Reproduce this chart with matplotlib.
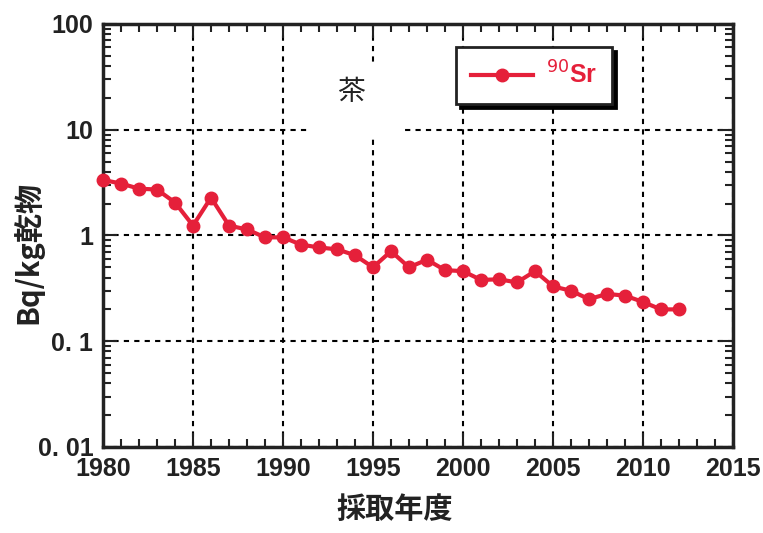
import matplotlib
matplotlib.use("Agg")
import matplotlib.pyplot as plt
from matplotlib.ticker import FixedLocator, FixedFormatter, LogLocator, MultipleLocator, NullFormatter
from matplotlib.patches import Rectangle

years = [1980, 1981, 1982, 1983, 1984, 1985, 1986, 1987, 1988, 1989, 1990,
         1991, 1992, 1993, 1994, 1995, 1996, 1997, 1998, 1999, 2000,
         2001, 2002, 2003, 2004, 2005, 2006, 2007, 2008, 2009, 2010,
         2011, 2012]
sr90 = [3.35, 3.1, 2.77, 2.72, 2.05, 1.24, 2.28, 1.24, 1.14, 0.96, 0.96,
        0.82, 0.77, 0.74, 0.65, 0.50, 0.71, 0.50, 0.59, 0.47, 0.46,
        0.38, 0.385, 0.36, 0.46, 0.33, 0.30, 0.25, 0.28, 0.27, 0.235,
        0.20, 0.20]
xticks = [1980, 1985, 1990, 1995, 2000, 2005, 2010, 2015]
yticks = [0.01, 0.1, 1, 10, 100]
yticklabels = ["0. 01", "0. 1", "1", "10", "100"]

num_font = ["Liberation Sans", "DejaVu Sans"]
cjk = ["Noto Sans CJK JP", "DejaVu Sans"]
ink = "#222222"
red = "#e5203a"

fig = plt.figure(figsize=(7.63, 5.33), dpi=100)
ax = fig.add_axes([0.135, 0.1614, 0.8257, 0.7936])

ax.plot(years, sr90, color=red, lw=3, marker="o", ms=9, mec=red, mfc=red,
        label="$^{90}$Sr", zorder=5, clip_on=False)

ax.set_yscale("log")
ax.set_xlim(1980, 2015)
ax.set_ylim(0.01, 100)
ax.xaxis.set_major_locator(FixedLocator(xticks))
ax.xaxis.set_minor_locator(MultipleLocator(1))
ax.yaxis.set_major_locator(FixedLocator(yticks))
ax.yaxis.set_major_formatter(FixedFormatter(yticklabels))
ax.yaxis.set_minor_locator(LogLocator(base=10, subs=range(2, 10), numticks=20))
ax.yaxis.set_minor_formatter(NullFormatter())

ax.grid(True, which="major", color="black", ls=(0, (2.5, 2.5)), lw=1.5, zorder=1)
ax.tick_params(which="both", direction="in", top=True, right=True, width=1.5, color=ink)
ax.tick_params(which="major", length=10, pad=7)
ax.tick_params(which="minor", length=6)
for s in ax.spines.values():
    s.set_linewidth(2.5)
    s.set_color(ink)

for lab in ax.get_xticklabels() + ax.get_yticklabels():
    lab.set_fontfamily(num_font)
    lab.set_fontweight("bold")
    lab.set_fontsize(18)
    lab.set_color(ink)

ax.set_xlabel("採取年度", fontsize=21, fontweight="bold", family=cjk, color=ink)
ax.xaxis.set_label_coords(0.463, -0.11)
ax.set_ylabel("Bq/kg乾物", fontsize=21, fontweight="bold", family=cjk, color=ink)
ax.yaxis.set_label_coords(-0.095, 0.461)

# white box behind the sample label
ax.add_patch(Rectangle((307, 533 - 138), 93, 76, transform=None, facecolor="white",
                       edgecolor="none", zorder=2))
ax.text(0.393, 0.84, "茶", transform=ax.transAxes, fontsize=20, family=cjk,
        ha="center", va="center", color=ink, zorder=3)

leg = ax.legend(loc="center", bbox_to_anchor=(0.684, 0.879), frameon=True,
                fancybox=False, shadow={"color": "black", "alpha": 1, "ox": 3, "oy": -3},
                handlelength=2.5, borderpad=0.6, handletextpad=0.5, borderaxespad=0,
                prop={"family": num_font, "weight": "bold", "size": 18})
leg.get_frame().set_edgecolor(ink)
leg.get_frame().set_linewidth(2)
leg.get_texts()[0].set_color(red)
leg.set_zorder(10)

fig.savefig("out.png", dpi=100)
